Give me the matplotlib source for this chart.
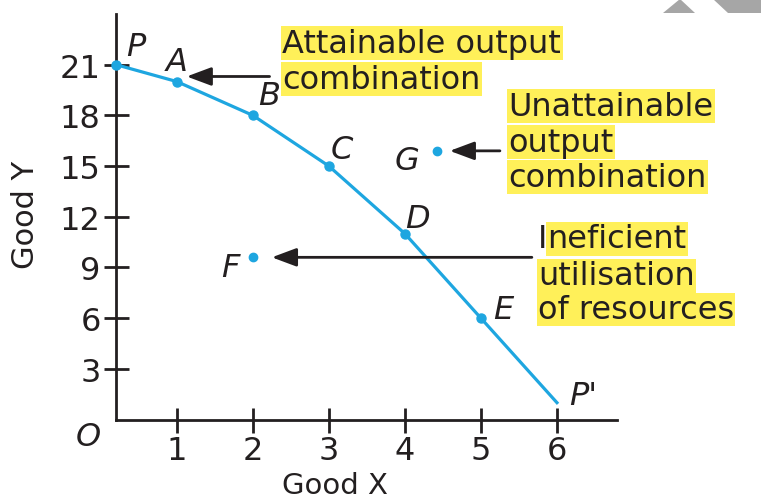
import matplotlib.pyplot as plt
from matplotlib.patches import Polygon

plt.rcParams['font.family'] = ['DejaVu Sans']

# points on the production possibility curve
ppf_names = ['P', 'A', 'B', 'C', 'D', 'E', "P'"]
good_x = [0.2, 1, 2, 3, 4, 5, 6]
good_y = [21, 20, 18, 15, 11, 6, 1]

# points inside / outside the curve
off_names = ['F', 'G']
off_x = [2.0, 4.42]
off_y = [9.6, 15.9]

x_ticks = [1, 2, 3, 4, 5, 6]
y_ticks = [3, 6, 9, 12, 15, 18, 21]

# where the point letters sit
ppf_label_x = [0.46, 1.0, 2.21, 3.17, 4.16, 5.3, 6.34]
ppf_label_y = [22.05, 21.2, 19.2, 16.0, 11.9, 6.54, 1.45]
off_label_x = [1.70, 4.03]
off_label_y = [9.0, 15.35]

ink = '#231f20'
blue = '#1ea6e0'
yellow = '#fff059'
fs = 23

fig = plt.figure(figsize=(7.61, 5.02), dpi=100)
ax = fig.add_axes([0.1524, 0.1622, 0.6584, 0.808])

# no dot at P', the curve just ends on the axis
ax.plot(good_x, good_y, color=blue, lw=2.3, marker='o', ms=6.5, markevery=list(range(6)),
        zorder=3, clip_on=False)
ax.plot(off_x, off_y, 'o', color=blue, ms=6, zorder=3)

for name, lx, ly in zip(ppf_names, ppf_label_x, ppf_label_y):
    ax.text(lx, ly, name, fontsize=fs, style='italic', color=ink, ha='center', va='center')
for name, lx, ly in zip(off_names, off_label_x, off_label_y):
    ax.text(lx, ly, name, fontsize=fs, style='italic', color=ink, ha='center', va='center')
ax.text(-0.17, -1.03, 'O', fontsize=fs, style='italic', color=ink, ha='center', va='center')

ax.set_xlim(0.2, 6.79)
ax.set_ylim(0, 24.0)
ax.set_xticks(x_ticks)
ax.set_yticks(y_ticks)
for s in ['top', 'right']:
    ax.spines[s].set_visible(False)
for s in ['left', 'bottom']:
    ax.spines[s].set_linewidth(2)
    ax.spines[s].set_color(ink)
ax.tick_params(direction='inout', length=18, width=2, color=ink, labelsize=fs,
               labelcolor=ink, pad=2)

ax.set_xlabel('Good X', fontsize=21, color=ink)
ax.xaxis.set_label_coords(0.437, -0.128)
ax.set_ylabel('Good Y', fontsize=22, color=ink)
ax.yaxis.set_label_coords(-0.152, 0.507)

arrow = dict(arrowstyle='-|>,head_length=0.75,head_width=0.28', mutation_scale=20,
             lw=2, color=ink, shrinkA=0, shrinkB=0)
ax.annotate('', xy=(1.13, 20.3), xytext=(2.22, 20.3), arrowprops=arrow)
ax.annotate('', xy=(4.59, 15.9), xytext=(5.25, 15.9), arrowprops=arrow)
ax.annotate('', xy=(2.25, 9.6), xytext=(5.67, 9.6), arrowprops=arrow)

hl = dict(boxstyle='square,pad=0.04', fc=yellow, ec='none')


def note(x, y, s):
    ax.text(x, y, s, fontsize=fs, color=ink, ha='left', va='center', bbox=hl)


note(2.39, 22.28, 'Attainable output')
note(2.39, 20.15, 'combination')
note(5.36, 18.55, 'Unattainable')
note(5.36, 16.42, 'output')
note(5.36, 14.35, 'combination')

# first letter left unhighlighted
first = ax.text(5.75, 10.69, 'I', fontsize=fs, color=ink, ha='left', va='center')
ax.annotate('neficient', xy=(1, 0.5), xycoords=first, fontsize=fs, color=ink,
            ha='left', va='center', bbox=hl)
note(5.75, 8.5, 'utilisation')
note(5.75, 6.5, 'of resources')

# grey corner marks
W, H = 761, 502
fig.patches.append(Polygon([[663 / W, 1 - 14 / H], [680 / W, 1], [695 / W, 1 - 14 / H]],
                           closed=True, transform=fig.transFigure, fc='#a6a6a6', ec='none'))
fig.patches.append(Polygon([[713 / W, 1], [1, 1], [1, 1 - 14 / H], [728 / W, 1 - 14 / H]],
                           closed=True, transform=fig.transFigure, fc='#a6a6a6', ec='none'))

fig.savefig('out.png', dpi=100)
